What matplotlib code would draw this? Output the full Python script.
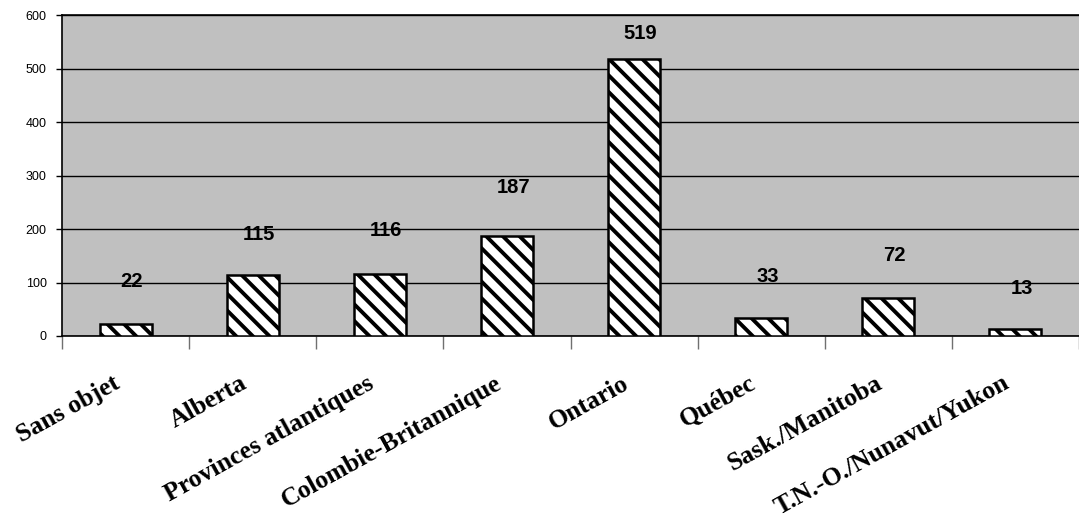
import matplotlib
matplotlib.use("Agg")
import matplotlib.pyplot as plt
import matplotlib.transforms as mtransforms
import numpy as np

categories = ["Sans objet", "Alberta", "Provinces atlantiques", "Colombie-Britannique",
              "Ontario", "Québec", "Sask./Manitoba", "T.N.-O./Nunavut/Yukon"]
counts = [22, 115, 116, 187, 519, 33, 72, 13]
yticks = [0, 100, 200, 300, 400, 500, 600]
# vertical gap (points) between each bar top and its value label
label_gap_pt = [31, 29, 31, 35, 18, 30, 30, 29]

plt.rcParams["hatch.linewidth"] = 2.8
plt.rcParams["hatch.color"] = "black"

fig = plt.figure(figsize=(10.79, 5.21), dpi=100)
ax = fig.add_axes([62 / 1079, 1 - 336 / 521, 1 - 62 / 1079, (336 - 15.3) / 521])
ax.set_facecolor("#C0C0C0")

x = np.arange(len(categories))
ax.set_axisbelow(True)
ax.yaxis.grid(True, color="black", linewidth=1.0)
ax.bar(x, counts, width=0.41, color="white", edgecolor="black",
       linewidth=1.8, hatch="\\\\", zorder=3)

for xi, v, gap in zip(x, counts, label_gap_pt):
    ax.annotate(str(v), xy=(xi, v), xytext=(4.5, gap), textcoords="offset points",
                ha="center", va="center", fontsize=14.5, fontweight="bold",
                family="Liberation Sans", color="black")

ax.set_xlim(-0.5, len(categories) - 0.5)
ax.set_ylim(0, 600)
ax.set_yticks(yticks)
ax.set_yticklabels([str(t) for t in yticks], family="Liberation Sans", fontsize=9)
ax.tick_params(axis="y", length=4, width=1, color="black", pad=7)

ax.set_xticks(x)
ax.set_xticklabels(categories, rotation=29, ha="right", rotation_mode="anchor",
                   family="Liberation Serif", fontweight="bold", fontsize=18.5)
ax.tick_params(axis="x", which="major", length=0, pad=22)
shift = mtransforms.ScaledTranslation(-13 / 100, -5 / 100, fig.dpi_scale_trans)
for lbl in ax.get_xticklabels():
    lbl.set_transform(lbl.get_transform() + shift)
ax.set_xticks(np.arange(-0.5, len(categories), 1.0), minor=True)
ax.tick_params(axis="x", which="minor", length=9, width=1, color="#707070")

for side in ("left", "top", "bottom"):
    ax.spines[side].set_color("black")
    ax.spines[side].set_linewidth(1.2)
ax.spines["right"].set_visible(False)

fig.savefig("out.png", dpi=100, facecolor="white")
